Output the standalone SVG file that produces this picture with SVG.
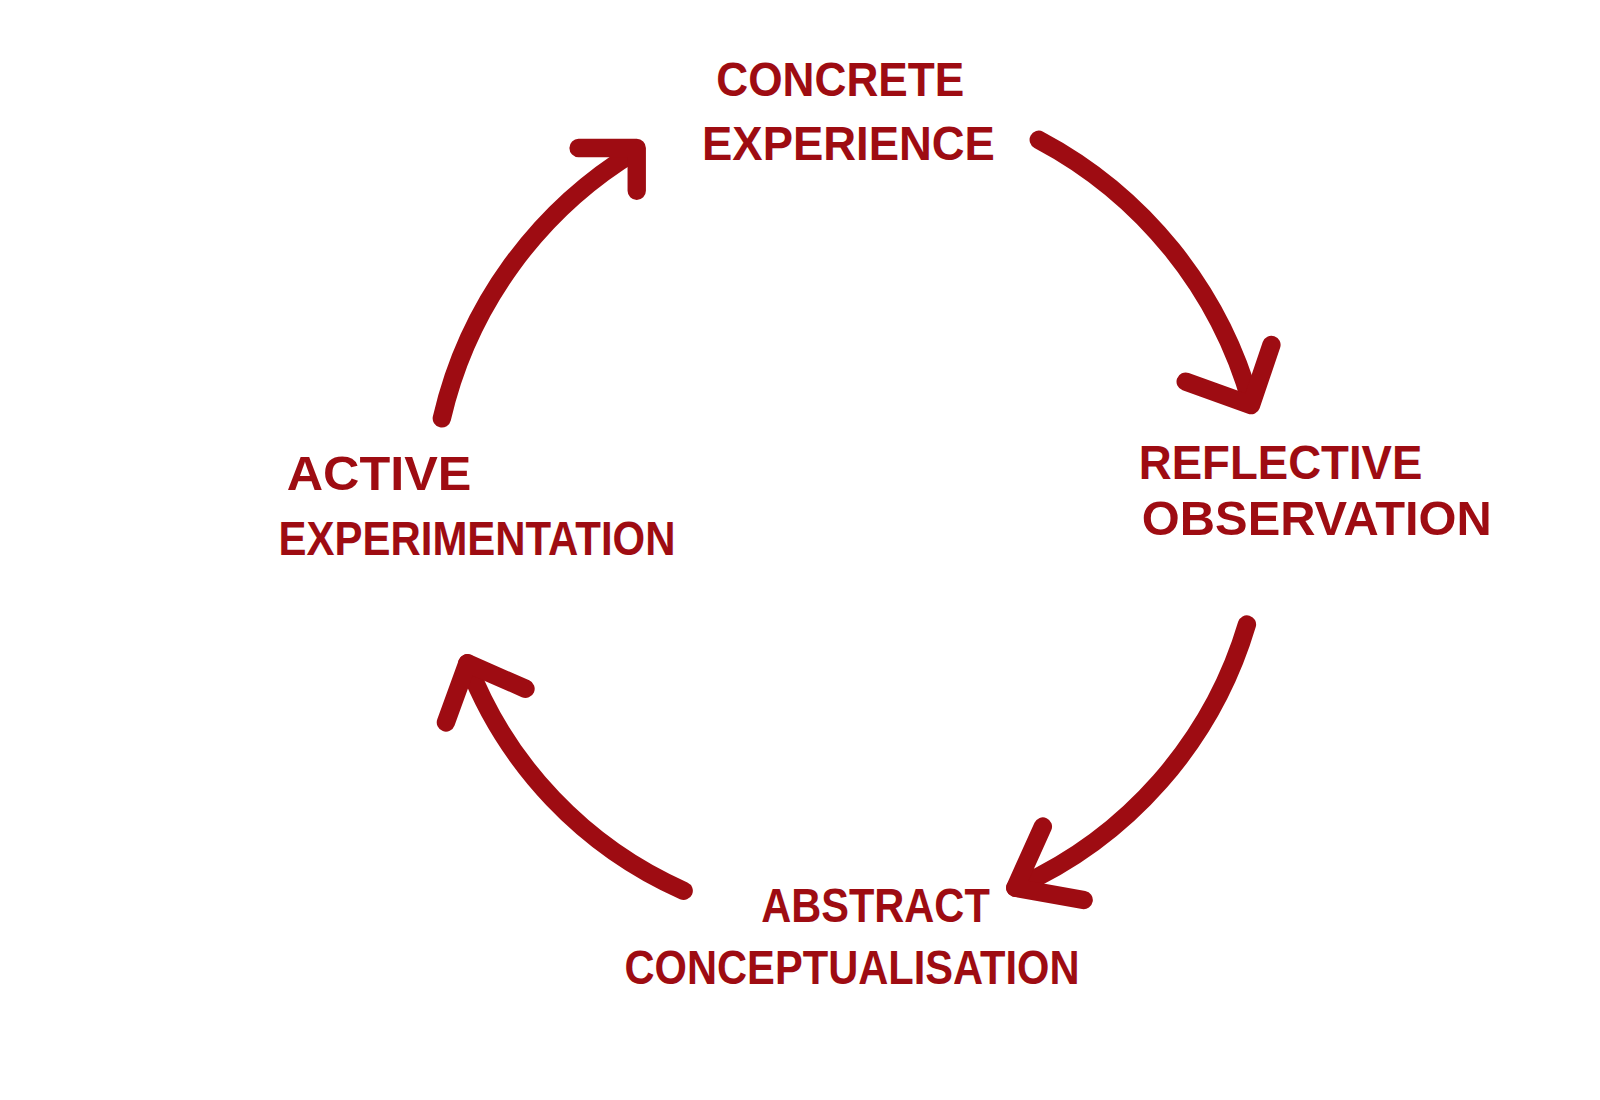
<svg xmlns="http://www.w3.org/2000/svg" width="1600" height="1100" viewBox="0 0 1600 1100">
<style>
.c{fill:none;stroke:#9e0c12;stroke-width:18;stroke-linecap:round;stroke-linejoin:round}
.t{fill:#9e0c12;font-family:"Liberation Sans",Arial,sans-serif;font-weight:bold;font-size:48px}
</style>
<rect width="1600" height="1100" fill="#fff"/>
<g transform="scale(1.0204)">
<g id="connectors">
<g id="arrow-ce-ro"><path class="c" d="M1018,137 A420,420 0 0 1 1226,395"/><path class="c" d="M1162,374 L1226,397 L1246,338"/></g>
<g id="arrow-ro-ac"><path class="c" d="M1222,612 A410,410 0 0 1 995,870"/><path class="c" d="M1022,810 L995,870 L1062,882"/></g>
<g id="arrow-ac-ae"><path class="c" d="M670,873 A400,400 0 0 1 458,650"/><path class="c" d="M437,708 L458,650 L515,675"/></g>
<g id="arrow-ae-ce"><path class="c" d="M433,410 A415,415 0 0 1 623,148"/><path class="c" d="M567,145 L624,145 L624,187"/></g>
</g>
<g id="concrete-experience">
<text class="t" x="702" y="94" textLength="243" lengthAdjust="spacingAndGlyphs">CONCRETE</text>
<text class="t" x="688" y="157" textLength="287" lengthAdjust="spacingAndGlyphs">EXPERIENCE</text>
</g>
<g id="reflective-observation">
<text class="t" x="1116" y="469" textLength="278" lengthAdjust="spacingAndGlyphs">REFLECTIVE</text>
<text class="t" x="1119" y="524" textLength="343" lengthAdjust="spacingAndGlyphs">OBSERVATION</text>
</g>
<g id="abstract-conceptualisation">
<text class="t" x="746" y="904" textLength="224" lengthAdjust="spacingAndGlyphs">ABSTRACT</text>
<text class="t" x="612" y="964" textLength="446" lengthAdjust="spacingAndGlyphs">CONCEPTUALISATION</text>
</g>
<g id="active-experimentation">
<text class="t" x="281" y="480" textLength="181" lengthAdjust="spacingAndGlyphs">ACTIVE</text>
<text class="t" x="273" y="544" textLength="389" lengthAdjust="spacingAndGlyphs">EXPERIMENTATION</text>
</g>
</g>
</svg>
